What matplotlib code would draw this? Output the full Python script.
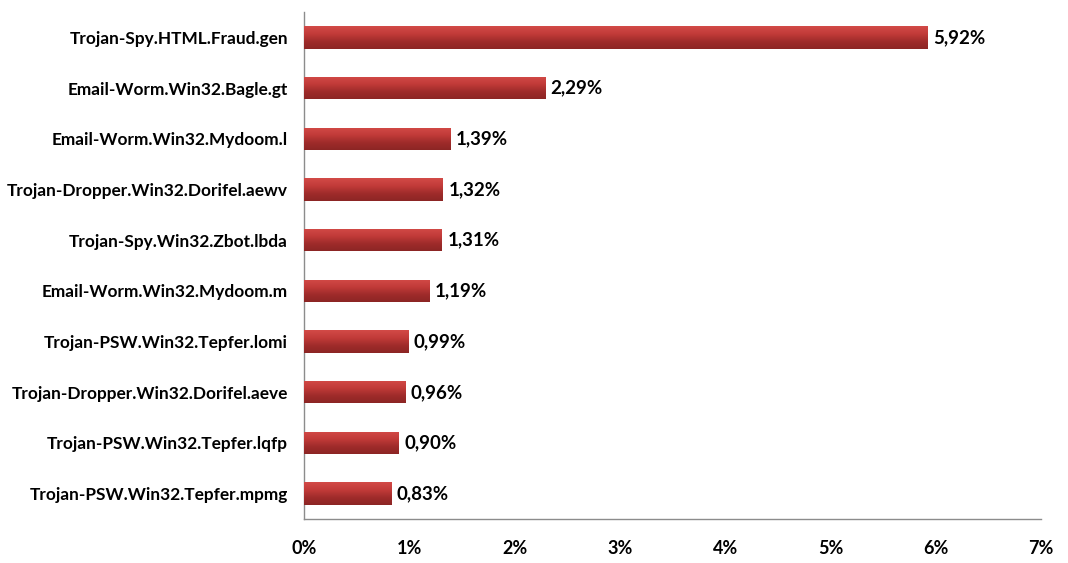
import matplotlib
matplotlib.use("Agg")
import matplotlib.pyplot as plt
import numpy as np
from matplotlib.colors import LinearSegmentedColormap

categories = [
    "Trojan-Spy.HTML.Fraud.gen",
    "Email-Worm.Win32.Bagle.gt",
    "Email-Worm.Win32.Mydoom.l",
    "Trojan-Dropper.Win32.Dorifel.aewv",
    "Trojan-Spy.Win32.Zbot.lbda",
    "Email-Worm.Win32.Mydoom.m",
    "Trojan-PSW.Win32.Tepfer.lomi",
    "Trojan-Dropper.Win32.Dorifel.aeve",
    "Trojan-PSW.Win32.Tepfer.lqfp",
    "Trojan-PSW.Win32.Tepfer.mpmg",
]
values = [5.92, 2.29, 1.39, 1.32, 1.31, 1.19, 0.99, 0.96, 0.90, 0.83]
value_labels = ["5,92%", "2,29%", "1,39%", "1,32%", "1,31%", "1,19%", "0,99%", "0,96%", "0,90%", "0,83%"]
xticks = [0, 1, 2, 3, 4, 5, 6, 7]
xtick_labels = ["0%", "1%", "2%", "3%", "4%", "5%", "6%", "7%"]

plt.rcParams['font.family'] = ['Lato', 'DejaVu Sans']
plt.rcParams['font.weight'] = 'bold'

fig = plt.figure(figsize=(10.68, 5.63), dpi=100)
ax = fig.add_axes([304/1068, 1 - 519/563, (1041-304)/1068, (519-12)/563])

y = np.arange(len(categories))
bars = ax.barh(y, values, height=0.44, color="#b83634", edgecolor="none", zorder=2)

cmap = LinearSegmentedColormap.from_list("g", ["#d24a47", "#c23b39", "#a02c2b", "#8c2524"])
grad = np.linspace(0, 1, 64).reshape(-1, 1)
for b in bars:
    x0, y0 = b.get_x(), b.get_y()
    w, h = b.get_width(), b.get_height()
    im = ax.imshow(grad, cmap=cmap, aspect="auto", extent=(x0, x0 + w, y0 + h, y0),
                   origin="upper", zorder=3)
    im.set_clip_path(b)

for b, lab in zip(bars, value_labels):
    ax.annotate(lab, (b.get_width(), b.get_y() + b.get_height() / 2),
                xytext=(4, 0), textcoords="offset points", va="center", ha="left",
                fontsize=13.5, fontweight="bold", color="black")

ax.set_xlim(0, 7)
ax.set_ylim(len(categories) - 0.5, -0.5)
ax.set_yticks(y)
ax.set_yticklabels(categories, fontsize=12.4, fontweight="bold")
ax.set_xticks(xticks)
ax.set_xticklabels(xtick_labels, fontsize=13, fontweight="bold")
ax.tick_params(axis="both", length=0)
ax.tick_params(axis="x", pad=15)
ax.tick_params(axis="y", pad=11.5)
for s in ["top", "right"]:
    ax.spines[s].set_visible(False)
for s in ["left", "bottom"]:
    ax.spines[s].set_color("#8c8c8c")
    ax.spines[s].set_linewidth(1)

fig.savefig("out.png", dpi=100)
